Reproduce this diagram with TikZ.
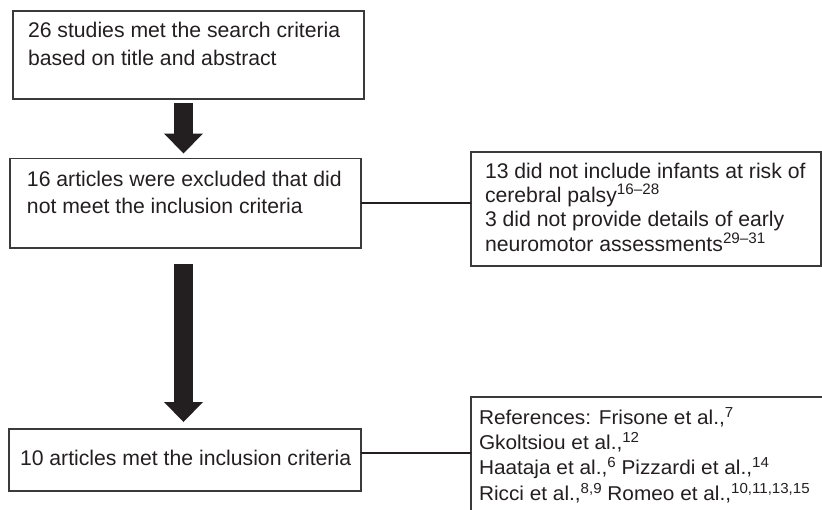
\documentclass[tikz,border=0pt]{standalone}
\usepackage{fontspec}
\setmainfont{Liberation Sans}
\newfontfamily\refsfont{Liberation Sans}[FakeStretch=1.04]
\usetikzlibrary{arrows.meta}
\definecolor{boxline}{HTML}{3A3A3A}
\definecolor{ink}{HTML}{231F20}
\newcommand{\rsup}[1]{\raisebox{7.5pt}{\fontsize{15.2}{15}\selectfont #1}}
\newcommand{\rsupb}[1]{\raisebox{7pt}{\fontsize{14.5}{14}\selectfont #1}}
\begin{document}
\begin{tikzpicture}[x=1pt,y=-1pt,
  box/.style={draw=boxline,line width=1.1pt,inner sep=0pt,outer sep=0pt,anchor=north west},
  txt/.style={anchor=base west,inner sep=0pt,outer sep=0pt,align=left,text=ink,
    font=\fontsize{21.2}{28}\selectfont},
  link/.style={draw=ink,line width=2pt},
  fatarrow/.style={draw=ink,line width=19pt,
    -{Triangle[width=39pt,length=20pt,line width=0pt]}}]
\useasboundingbox (0,0) rectangle (822,509);
\clip (0,0) rectangle (822,509);
% boxes
\node[box,minimum width=351pt,minimum height=88pt] (box1) at (13,11) {};
\node[box,minimum width=351pt,minimum height=89.5pt] (box2) at (10,158.5) {};
\node[box,minimum width=350pt,minimum height=114pt] (box3) at (471,152) {};
\node[box,minimum width=352pt,minimum height=62pt] (box4) at (9,429) {};
\node[box,minimum width=380pt,minimum height=140pt] (box5) at (471,397) {};
% texts (anchor = baseline of the last line)
\node[txt] (t1) at (28,65) {26 studies met the search criteria\\based on title and abstract};
\node[txt,font=\fontsize{21.2}{27.5}\selectfont] (t2) at (27,213.5) {16 articles were excluded that did\\not meet the inclusion criteria};
\node[txt,font=\fontsize{21.2}{24.4}\selectfont] (t3) at (485,251.2)
  {13 did not include infants at risk of\\cerebral palsy\rsup{16–28}\\3 did not provide details of early\\neuromotor assessments\rsup{29–31}};
\node[txt] (t4) at (20,465) {10 articles met the inclusion criteria};
\node[txt,font=\refsfont\fontsize{20}{25.3}\selectfont] (t5) at (479,500)
  {References: Frisone et al.,\rsupb{7}\\Gkoltsiou et al.,\rsupb{12}\\Haataja et al.,\rsupb{6} Pizzardi et al.,\rsupb{14}\\Ricci et al.,\rsupb{8,9} Romeo et al.,\rsupb{10,11,13,15}};
% connectors
\coordinate (acol) at (183.5,0);
\coordinate (c2) at (0,453);
\draw[fatarrow,shorten <=4pt,shorten >=5pt] (box1.south -| acol) -- (box2.north -| acol);
\draw[fatarrow,shorten <=16pt,shorten >=7pt] (box2.south -| acol) -- (box4.north -| acol);
\draw[link] (box2.east) -- (box2.east -| box3.west);
\draw[link] (box4.east |- c2) -- (box5.west |- c2);
\end{tikzpicture}
\end{document}
